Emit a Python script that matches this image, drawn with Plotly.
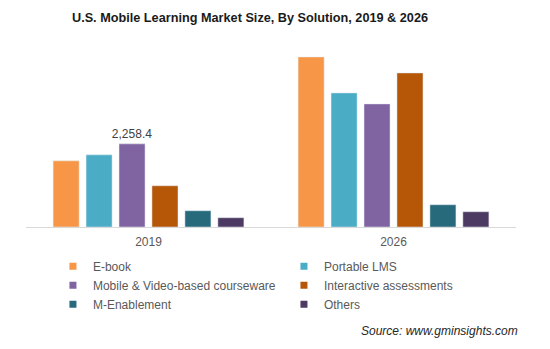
import plotly.graph_objects as go

years = ["2019", "2026"]
segments = ["E-book", "Portable LMS", "Mobile & Video-based courseware",
            "Interactive assessments", "M-Enablement", "Others"]
colors = ["#F79646", "#4BACC6", "#8064A2", "#B65708", "#276A7C", "#4D3A62"]
values = {
    "E-book": [1797, 4619],
    "Portable LMS": [1960, 3642],
    "Mobile & Video-based courseware": [2258.4, 3344],
    "Interactive assessments": [1120, 4185],
    "M-Enablement": [442, 605],
    "Others": [252, 415],
}
labels = {"Mobile & Video-based courseware": ["2,258.4", ""]}

W, H = 550, 349
ml, mr, mt, mb = 25.5, 34, 50, 121.7

fig = go.Figure()
for seg, col in zip(segments, colors):
    fig.add_trace(go.Bar(
        x=years, y=values[seg], name=seg, marker_color=col, showlegend=False,
        text=labels.get(seg, ["", ""]), textposition="outside", constraintext="none",
        textfont=dict(size=12, color="#404040"), cliponaxis=False,
    ))
for seg, col in zip(segments, colors):
    fig.add_trace(go.Scatter(
        x=[None], y=[None], mode="markers", name=seg,
        marker=dict(symbol="square", size=7, color=col),
    ))

fig.update_layout(
    width=W, height=H,
    margin=dict(l=ml, r=mr, t=mt, b=mb, pad=0),
    paper_bgcolor="white", plot_bgcolor="white",
    font=dict(family="Liberation Sans, Arial, sans-serif", size=12, color="#595959"),
    barmode="group", bargap=0.193, bargroupgap=0.21,
    title=dict(text="<b>U.S. Mobile Learning Market Size, By Solution, 2019 & 2026</b>",
               x=250 / W, xanchor="center", y=1 - 18 / H, yanchor="middle",
               font=dict(size=12.7, color="#1a1a1a")),
    xaxis=dict(showline=True, linecolor="#d9d9d9", linewidth=1, ticks="",
               tickfont=dict(size=12, color="#595959"), ticklabelstandoff=4,
               fixedrange=True),
    yaxis=dict(range=[0, 4808], visible=False, showgrid=False, zeroline=False),
    legend=dict(orientation="h", x=0.055, xanchor="left", y=-0.14, yanchor="top",
                entrywidth=186, entrywidthmode="pixels",
                font=dict(size=12, color="#595959"), itemwidth=30,
                traceorder="normal"),
    showlegend=True,
    annotations=[dict(text="<i>Source: www.gminsights.com</i>", xref="paper", yref="paper",
                      x=(520 - ml) / (W - ml - mr), xanchor="right",
                      y=-(331.7 - (H - mb)) / (H - mt - mb), yanchor="middle",
                      showarrow=False, font=dict(size=12, color="#262626"))],
)

fig.write_html("out.html")
